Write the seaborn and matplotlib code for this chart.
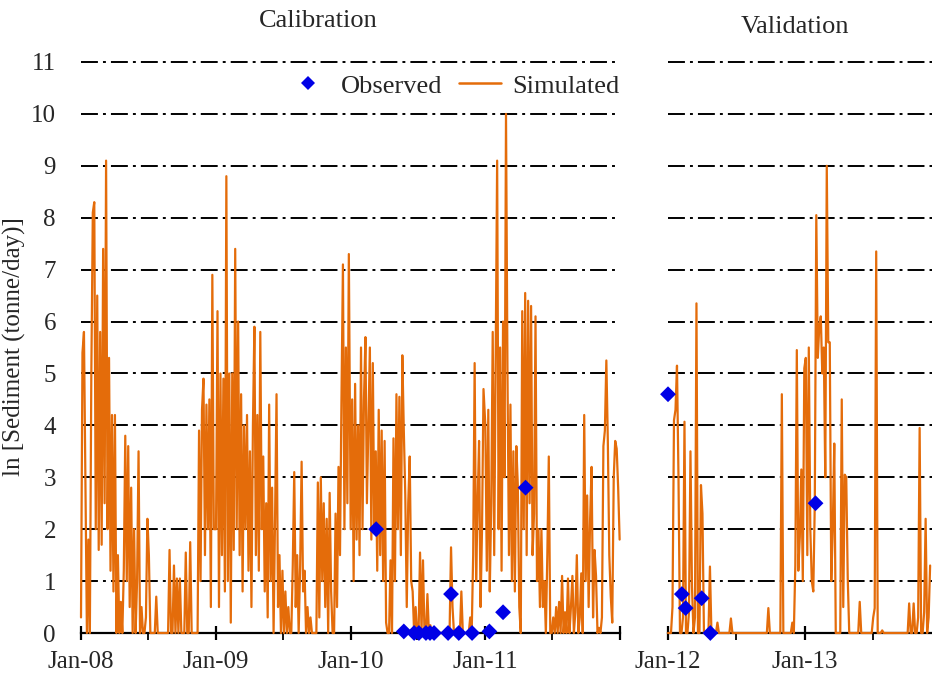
import numpy as np
import pandas as pd
import matplotlib
matplotlib.use("Agg")
import matplotlib.pyplot as plt
import matplotlib.dates as mdates
from matplotlib.lines import Line2D
import seaborn as sns

# ---------------- data ----------------
# Simulated ln(sediment), one value every 4 days from 1 Jan of each year
sim_2008 = [0.3, 5.4, 5.8, 3.0, 0.0, 1.8, 0.0, 5.0, 8.1, 8.3,
            2.0, 6.5, 1.6, 5.8, 1.7, 7.4, 2.5, 9.1, 2.0, 5.3,
            1.2, 4.2, 0.8, 4.2, 0.0, 1.5, 0.0, 0.6, 0.0, 1.2,
            3.8, 1.0, 3.6, 0.5, 2.8, 0.0, 2.0, 0.0, 1.0, 3.5,
            0.0, 0.5, 0.0, 0.0, 0.3, 2.2, 1.5, 0.0, 0.0, 0.0,
            0.0, 0.7, 0, 0, 0, 0, 0, 0, 0, 0,
            1.6, 0, 0, 1.3, 0, 1.05, 0, 1.05, 0, 0,
            0, 1.55, 0, 0, 1.75, 0, 0, 0, 0, 0,
            3.9, 1.0, 4.3, 4.9, 1.5, 4.4, 2.0, 4.5, 0.5, 6.9,
            2.0]
sim_2009 = [2.0, 6.2, 0.5, 5.0, 1.5, 4.9, 0.8, 8.8, 1.0, 5.0,
            0.2, 5.0, 1.6, 7.4, 2.0, 6.0, 1.5, 4.6, 0.8, 4.0,
            2.0, 4.2, 1.2, 3.5, 0.5, 4.0, 5.9, 1.5, 4.2, 1.2,
            5.8, 2.0, 3.4, 0.8, 2.5, 0.3, 4.4, 1.0, 2.8, 0.0,
            2.2, 4.6, 0.5, 1.5, 0, 1.2, 0, 0.8, 0, 0.5,
            0, 0, 1.3, 3.1, 0.5, 1.5, 0, 1.3, 3.3, 0.8,
            1.2, 0, 0.5, 0, 0.3, 0, 0, 0, 0, 2.9,
            0.3, 3.0, 1.0, 2.5, 0.5, 2.2, 0, 2.7, 0.8, 0,
            0, 2.3, 0.5, 3.2, 1.5, 4.5, 7.1, 2.0, 5.5, 2.5,
            7.3]
sim_2010 = [2.0, 4.5, 1.0, 4.8, 1.8, 4.0, 1.5, 5.5, 2.0, 4.5,
            5.7, 2.5, 4.0, 5.5, 1.8, 5.2, 2.0, 3.5, 1.2, 4.3,
            1.5, 3.9, 1.0, 3.7, 0.2, 0, 0, 1.4, 0, 3.75,
            1.0, 4.6, 2.0, 4.55, 1.5, 5.35, 3.9, 2.65, 0.5, 2.5,
            3.4, 1.0, 0.8, 0, 0.5, 0, 0, 1.55, 0, 1.4,
            0, 0, 0.75, 0, 0.15, 0, 0, 0, 0, 0,
            0, 0, 0, 0, 0, 0, 0, 0, 1.65, 0.5,
            0, 0, 0, 0, 0, 0.8, 0, 0, 0, 0,
            0, 0.3, 0, 1.5, 5.2, 1.0, 2.5, 3.7, 0.5, 2.0,
            4.7]
sim_2011 = [4.0, 1.2, 4.3, 0.8, 2.5, 5.8, 1.5, 5.4, 9.1, 2.0,
            5.5, 1.2, 6.0, 3.0, 10.0, 5.0, 1.5, 4.4, 1.0, 3.5,
            0.8, 3.6, 2.85, 0.5, 0.0, 6.2, 2.0, 6.55, 1.5, 6.4,
            2.5, 6.3, 1.5, 2.3, 6.1, 1.0, 2.0, 0.5, 2.0, 0.5,
            1.0, 0.0, 1.5, 3.4, 0.0, 0.0, 0.3, 0.0, 0.5, 0.0,
            0.6, 0.0, 1.1, 0.0, 0.4, 0.0, 1.05, 0.0, 0.5, 1.1,
            0.0, 0.4, 1.5, 0.0, 0.3, 1.15, 0.0, 4.2, 1.0, 2.65,
            0.5, 2.2, 3.2, 0.3, 1.6, 1.1, 0.0, 0.1, 0.0, 0.3,
            3.6, 3.9, 5.25, 3.7, 1.5, 0.7, 0.2, 3.0, 3.7, 3.55,
            2.8, 1.8]
# Validation: one value every 4 days from 1 Jan 2012
sim_val = [0, 0, 0, 0.5, 4.1, 4.3, 5.15, 3.0, 0, 0,
           0.3, 4.07, 0, 0, 0.4, 3.5, 0.9, 0, 0.3, 6.35,
           0, 0, 2.85, 2.3, 0, 0, 0, 0, 1.28, 0,
           0, 0, 0, 0.2, 0, 0, 0, 0, 0, 0,
           0, 0, 0.28, 0, 0, 0, 0, 0, 0, 0,
           0, 0, 0, 0, 0, 0, 0, 0, 0, 0,
           0, 0, 0, 0, 0, 0, 0, 0.48, 0, 0,
           0, 0, 0, 0, 0, 0, 4.6, 0, 0, 0,
           0, 0, 0, 0.2, 0, 1.3, 5.45, 1.2, 1.85, 3.15,
           1.0, 5.1, 5.3, 1.5, 5.5, 2.0, 1.0, 0.8, 2.5, 8.05,
           5.3, 5.9, 6.1, 5.0, 5.5, 3.0, 9.0, 5.6, 5.6, 1.0,
           2.0, 3.65, 0, 0, 0, 0, 4.5, 0.5, 3.05, 3.0,
           1.05, 0, 0, 0, 0, 0, 0, 0, 0.6, 0,
           0, 0, 0, 0, 0, 0, 0, 0.3, 0.48, 7.35,
           0, 0, 0, 0.05, 0, 0, 0, 0, 0, 0,
           0, 0, 0, 0, 0, 0, 0, 0, 0, 0,
           0, 0.57, 0, 0, 0.57, 0, 0, 0.3, 3.95, 0,
           0, 0.4, 2.2, 0, 0.3, 1.3]

obs_cal_dates = ["2010-03-11", "2010-05-25", "2010-06-22", "2010-07-05", "2010-07-24",
                 "2010-08-04", "2010-08-15", "2010-09-22", "2010-09-30", "2010-10-21",
                 "2010-11-26", "2011-01-12", "2011-02-18", "2011-04-20"]
obs_cal_vals = [2.0, 0.03, 0.0, 0.0, 0.0, 0.0, 0.0, 0.0, 0.75, 0.0, 0.0, 0.03, 0.4, 2.8]
obs_val_dates = ["2012-01-01", "2012-02-07", "2012-02-17", "2012-03-31", "2012-04-23", "2013-01-29"]
obs_val_vals = [4.6, 0.75, 0.48, 0.67, 0.0, 2.5]

y_ticks = list(range(0, 12))
STEP_DAYS = 4


def sim_frame(start, vals):
    dates = pd.Timestamp(start) + pd.to_timedelta(np.arange(len(vals)) * STEP_DAYS, unit="D")
    return pd.DataFrame({"date": dates, "value": vals})


cal_df = pd.concat([sim_frame("2008-01-01", sim_2008), sim_frame("2009-01-01", sim_2009),
                    sim_frame("2010-01-01", sim_2010), sim_frame("2011-01-01", sim_2011)],
                   ignore_index=True)
val_df = sim_frame("2012-01-01", sim_val)
obs_cal = pd.DataFrame({"date": pd.to_datetime(obs_cal_dates), "value": obs_cal_vals})
obs_val = pd.DataFrame({"date": pd.to_datetime(obs_val_dates), "value": obs_val_vals})

# ---------------- style ----------------
sns.set_theme(style="white")
plt.rcParams["font.family"] = ["Liberation Serif", "DejaVu Serif"]
ORANGE = "#E46C0A"
BLUE = "#0000E6"
FS = 18

W, H = 932, 679
fig = plt.figure(figsize=(W / 100, H / 100), dpi=100)
ax1 = fig.add_axes([81 / W, 46 / H, 539 / W, 571 / H])
ax2 = fig.add_axes([668 / W, 46 / H, 264 / W, 571 / H])

for ax, sdf, odf in [(ax1, cal_df, obs_cal), (ax2, val_df, obs_val)]:
    for v in y_ticks[1:]:
        ax.axhline(v, color="black", lw=1.4, ls=(0, (8.7, 2.6, 1.5, 2.6)), zorder=1)
    sns.lineplot(data=sdf, x="date", y="value", ax=ax, color=ORANGE, lw=1.6,
                 estimator=None, legend=False, zorder=3)
    sns.scatterplot(data=odf, x="date", y="value", ax=ax, marker="D", color=BLUE,
                    s=65, edgecolor="none", linewidth=0, zorder=5, clip_on=False, legend=False)
    for ln in ax.lines:
        ln.set_clip_on(False)
    ax.set_ylim(0, 11)
    ax.set_xlabel("")
    ax.set_ylabel("")
    for s in ["top", "right", "left"]:
        ax.spines[s].set_visible(False)
    ax.spines["bottom"].set_color("black")
    ax.spines["bottom"].set_linewidth(1.6)
    ax.spines["bottom"].set_zorder(2)
    ax.set_facecolor("white")
    ax.xaxis.set_major_locator(mdates.YearLocator())
    ax.xaxis.set_minor_locator(mdates.MonthLocator(bymonth=7))
    ax.tick_params(axis="x", which="major", direction="inout", length=10, width=1.6,
                   color="black", labelsize=FS, pad=8, bottom=True)
    ax.tick_params(axis="x", which="minor", direction="out", length=5, width=1.3,
                   color="black", bottom=True)

ax1.set_xlim(pd.Timestamp("2008-01-01"), pd.Timestamp("2012-01-01"))
ax2.set_xlim(pd.Timestamp("2012-01-01"), pd.Timestamp("2012-01-01") + pd.Timedelta(days=705))


def fmt_left(x, pos):
    d = mdates.num2date(x)
    return "" if d.year >= 2012 else d.strftime("%b-%y")


ax1.xaxis.set_major_formatter(plt.FuncFormatter(fmt_left))
ax2.xaxis.set_major_formatter(mdates.DateFormatter("%b-%y"))

ax1.set_yticks(y_ticks)
ax1.set_yticklabels([str(v) for v in y_ticks])
ax1.tick_params(axis="y", length=0, labelsize=FS, pad=18)
ax2.set_yticks([])

fig.text(14 / W, 1 - 347 / H, "ln [Sediment (tonne/day)]", rotation=90,
         ha="center", va="center", fontsize=FS)
fig.text(318 / W, 1 - 21 / H, "Calibration", ha="center", va="center", fontsize=FS + 1)
fig.text(795 / W, 1 - 27 / H, "Validation", ha="center", va="center", fontsize=FS + 1)

handles = [Line2D([], [], marker="D", ls="none", color=BLUE, markersize=7, markeredgewidth=0),
           Line2D([], [], color=ORANGE, lw=1.8)]
ax1.legend(handles, ["Observed", "Simulated"], loc="center right",
           bbox_to_anchor=(1.0, (633 - 86) / 571), ncol=2, frameon=False,
           fontsize=FS + 1, handlelength=1.6, handletextpad=0.45, columnspacing=0.6,
           borderaxespad=0, borderpad=0)

fig.savefig("out.png", dpi=100, facecolor="white")
